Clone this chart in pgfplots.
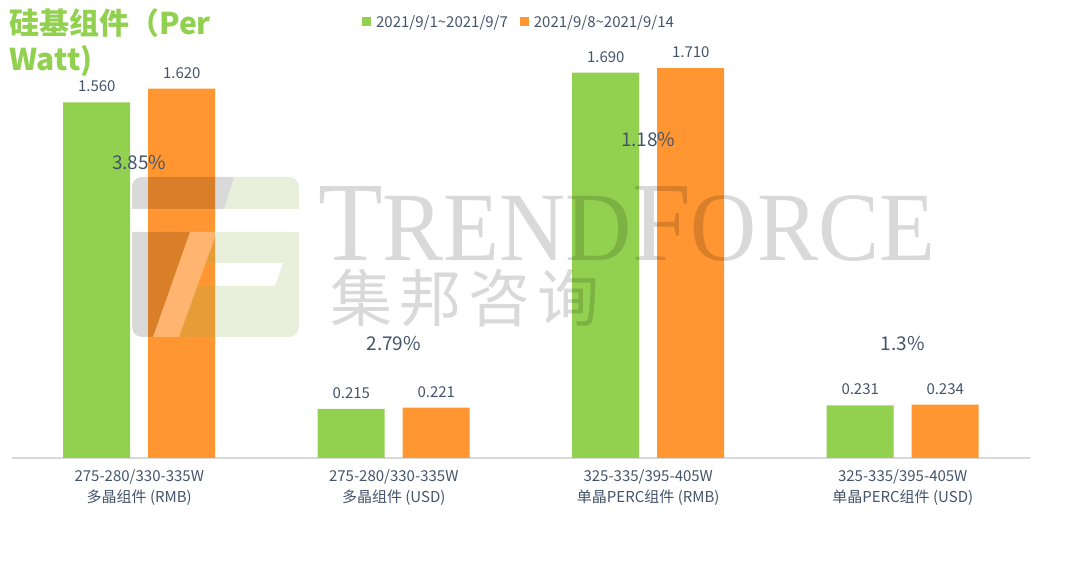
\documentclass[border=0pt]{standalone}
\usepackage{pgfplots}
\pgfplotsset{compat=1.18}
\usepackage{fontspec}
\setmainfont{Noto Sans CJK SC}
\newfontfamily\wmfont{Liberation Serif}
\definecolor{bgreen}{HTML}{92D050}
\definecolor{borange}{HTML}{FF9632}
\definecolor{txt}{HTML}{44546A}
\definecolor{axgray}{HTML}{D9D9D9}
\definecolor{logogreen}{HTML}{8CB450}
\begin{document}
\begin{tikzpicture}
\useasboundingbox (0,0) rectangle (1080bp,562bp);
\begin{axis}[
  at={(12bp,104bp)}, anchor=south west,
  width=1018bp, height=458bp, scale only axis,
  xmin=-0.5, xmax=3.5, ymin=0, ymax=2.009,
  ybar=18bp, bar width=67bp,
  hide y axis,
  axis x line*=bottom,
  x axis line style={-, draw=axgray, line width=1.2bp},
  xtick={0,1,2,3},
  xtick style={draw=none},
  xticklabels={{275-280/330-335W\\多晶组件 (RMB)},{275-280/330-335W\\多晶组件 (USD)},{325-335/395-405W\\单晶PERC组件 (RMB)},{325-335/395-405W\\单晶PERC组件 (USD)}},
  xticklabel style={align=center, font=\fontsize{15bp}{21bp}\selectfont, text=txt, inner sep=0pt, yshift=-7.5bp},
  /pgf/number format/assume math mode=true,
  nodes near coords={\pgfmathprintnumber[fixed, fixed zerofill, precision=3]{\pgfplotspointmeta}},
  every node near coord/.append style={anchor=base, yshift=10.5bp, inner sep=0pt, font=\fontsize{15bp}{18bp}\selectfont, text=txt},
  legend style={draw=none, fill=none, at={(axis description cs:0.3438,0.952)}, anchor=west, legend columns=2, font=\fontsize{15bp}{18bp}\selectfont, text=txt, /tikz/every even column/.append style={column sep=10bp}, inner sep=0pt},
  legend cell align=left,
  clip=false,
]
\addplot[fill=bgreen, draw=none, legend image code/.code={\fill[bgreen] (0bp,-4.5bp) rectangle (9bp,4.5bp); \path (0bp,0bp) -- (12bp,0bp);}]
  coordinates {(0,1.560) (1,0.215) (2,1.690) (3,0.231)};
\addlegendentry{2021/9/1\textasciitilde 2021/9/7}
\addplot[fill=borange, draw=none, legend image code/.code={\fill[borange] (0bp,-4.5bp) rectangle (9bp,4.5bp); \path (0bp,0bp) -- (12bp,0bp);}]
  coordinates {(0,1.620) (1,0.221) (2,1.710) (3,0.234)};
\addlegendentry{2021/9/8\textasciitilde 2021/9/14}
\node[font=\fontsize{19bp}{22bp}\selectfont, text=txt, inner sep=0pt] at (axis cs:0,1.294) {3.85\%};
\node[font=\fontsize{19bp}{22bp}\selectfont, text=txt, inner sep=0pt] at (axis cs:1,0.500) {2.79\%};
\node[font=\fontsize{19bp}{22bp}\selectfont, text=txt, inner sep=0pt] at (axis cs:2,1.395) {1.18\%};
\node[font=\fontsize{19bp}{22bp}\selectfont, text=txt, inner sep=0pt] at (axis cs:3,0.500) {1.3\%};
\end{axis}
% title
\node[anchor=base west, inner sep=0pt, text=bgreen, font=\fontsize{30bp}{36bp}\selectfont\bfseries] at (9bp,527bp) {硅基组件（Per};
\node[anchor=base west, inner sep=0pt, text=bgreen, font=\fontsize{30bp}{36bp}\selectfont\bfseries] at (9bp,491bp) {Watt)};
% watermark
\begin{scope}[x=1bp, y=-1bp, shift={(0bp,562bp)}]
  \begin{scope}
    \clip[rounded corners=10bp] (132,177) rectangle (299,337);
    \fill[black, opacity=0.15] (132,177) -- (234,177) -- (224,209) -- (132,209) -- cycle;
    \fill[logogreen, opacity=0.2] (234,177) -- (299,177) -- (299,209) -- (224,209) -- cycle;
    \fill[black, opacity=0.15] (132,232) -- (190,232) -- (153,337) -- (132,337) -- cycle;
    \fill[white, opacity=0.3] (190,232) -- (217,232) -- (179,337) -- (153,337) -- cycle;
    \fill[logogreen, opacity=0.2] (217,232) -- (299,232) -- (299,337) -- (179,337) -- (197,286) -- (275,286) -- (283,263) -- (205.5,263) -- cycle;
  \end{scope}
  \node[anchor=base west, inner sep=0pt, text=black, text opacity=0.15] at (318,261)
    {\raisebox{0pt}[\height][0pt]{\scalebox{0.935}[1]{\wmfont\fontsize{113bp}{113bp}\selectfont T\fontsize{98bp}{98bp}\selectfont REND\fontsize{113bp}{113bp}\selectfont F\fontsize{98bp}{98bp}\selectfont ORCE}}};
  \node[anchor=base west, inner sep=0pt, text=black, text opacity=0.15, font=\fontsize{62bp}{62bp}\selectfont] at (330,322)
    {\raisebox{0pt}[50bp][0pt]{集\hspace{7bp}邦\hspace{7bp}咨\hspace{7bp}询}};
\end{scope}
\end{tikzpicture}
\end{document}
